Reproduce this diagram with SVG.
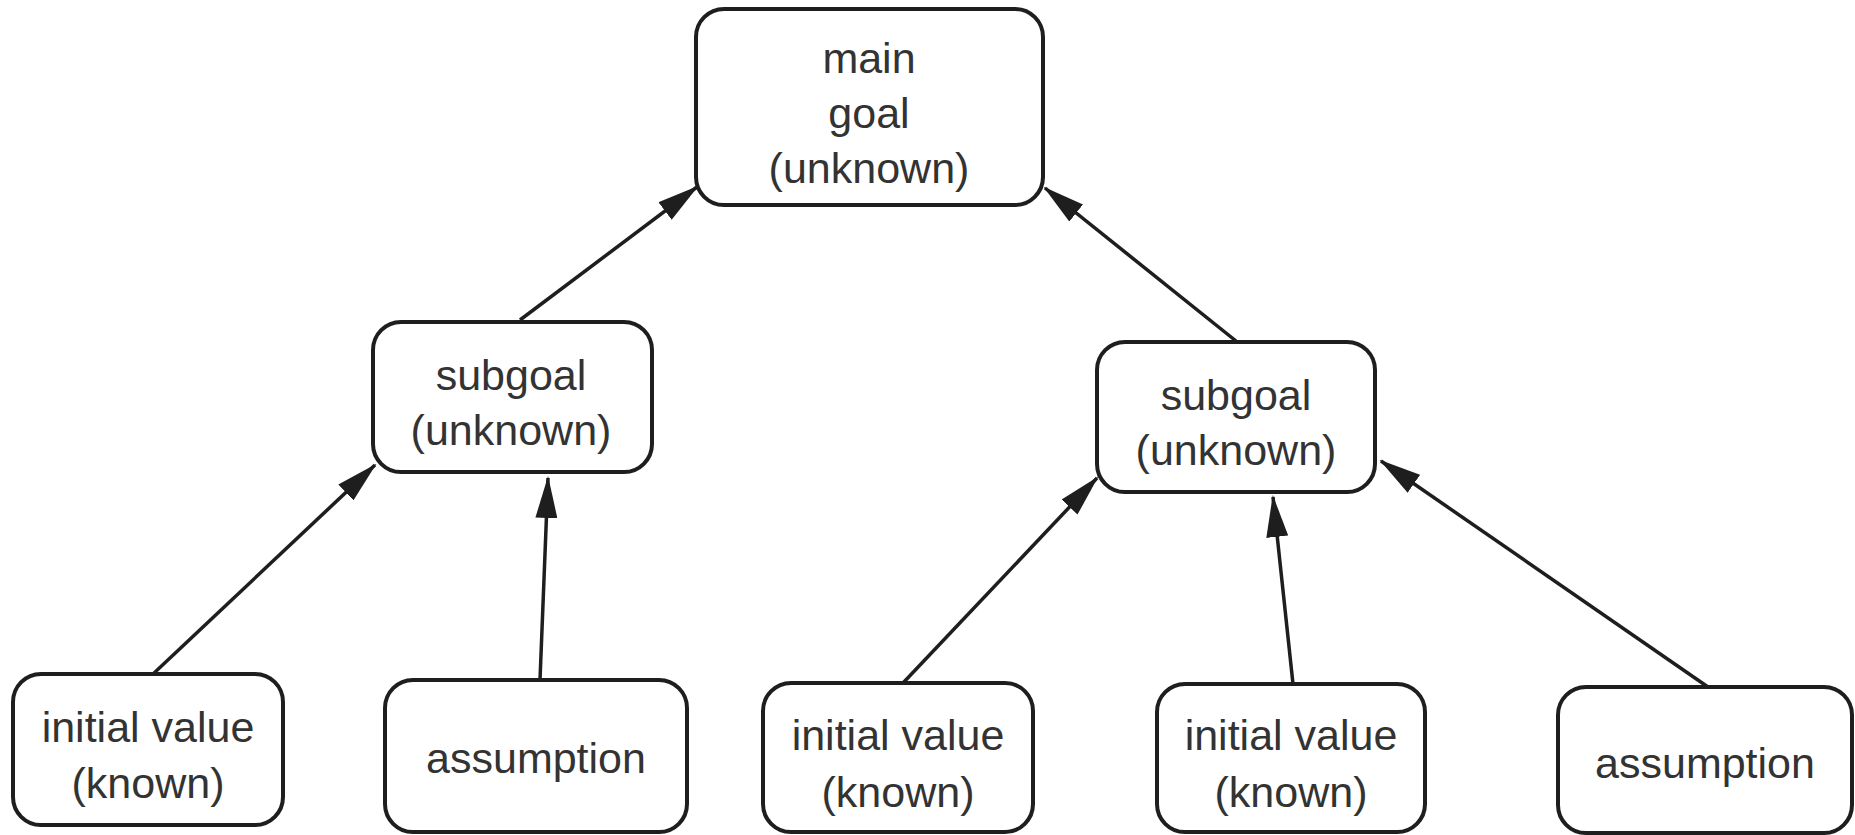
<svg xmlns="http://www.w3.org/2000/svg" width="1855" height="835" viewBox="0 0 1855 835">
<style>
  .box { fill: #ffffff; stroke: #1e1e1e; stroke-width: 4; }
  .lbl { font-family: "Liberation Sans", Arial, sans-serif; font-size: 43px; fill: #333333; text-anchor: middle; }
  .edge { stroke: #1e1e1e; stroke-width: 3.5; fill: none; marker-end: url(#arrow); }
</style>
<defs>
  <marker id="arrow" viewBox="0 0 42 22" refX="40" refY="11" markerWidth="42" markerHeight="22" markerUnits="userSpaceOnUse" orient="auto">
    <path d="M0,0 L42,11 L0,22 z" fill="#1e1e1e"/>
  </marker>
</defs>
<rect width="1855" height="835" fill="#ffffff"/>
<g id="connectors">
  <line class="edge" x1="520" y1="320" x2="697" y2="187"/>
  <line class="edge" x1="1236" y1="341" x2="1045" y2="188"/>
  <line class="edge" x1="153" y1="674" x2="375" y2="465"/>
  <line class="edge" x1="540" y1="680" x2="548" y2="478"/>
  <line class="edge" x1="903" y1="683" x2="1097" y2="478"/>
  <line class="edge" x1="1293" y1="684" x2="1273" y2="497"/>
  <line class="edge" x1="1708" y1="687" x2="1381" y2="461"/>
</g>
<g id="main-goal">
  <rect class="box" x="696" y="9" width="347" height="196" rx="28"/>
  <text class="lbl" x="869" y="73">main</text>
  <text class="lbl" x="869" y="128">goal</text>
  <text class="lbl" x="869" y="183">(unknown)</text>
</g>
<g id="subgoal-left">
  <rect class="box" x="373" y="322" width="279" height="150" rx="28"/>
  <text class="lbl" x="511" y="390">subgoal</text>
  <text class="lbl" x="511" y="445">(unknown)</text>
</g>
<g id="subgoal-right">
  <rect class="box" x="1097" y="342" width="278" height="150" rx="28"/>
  <text class="lbl" x="1236" y="410">subgoal</text>
  <text class="lbl" x="1236" y="465">(unknown)</text>
</g>
<g id="initial-value-1">
  <rect class="box" x="13" y="674" width="270" height="151" rx="28"/>
  <text class="lbl" x="148" y="742">initial value</text>
  <text class="lbl" x="148" y="798">(known)</text>
</g>
<g id="assumption-1">
  <rect class="box" x="385" y="680" width="302" height="152" rx="28"/>
  <text class="lbl" x="536" y="773">assumption</text>
</g>
<g id="initial-value-2">
  <rect class="box" x="763" y="683" width="270" height="149" rx="28"/>
  <text class="lbl" x="898" y="750">initial value</text>
  <text class="lbl" x="898" y="807">(known)</text>
</g>
<g id="initial-value-3">
  <rect class="box" x="1157" y="684" width="268" height="148" rx="28"/>
  <text class="lbl" x="1291" y="750">initial value</text>
  <text class="lbl" x="1291" y="807">(known)</text>
</g>
<g id="assumption-2">
  <rect class="box" x="1558" y="687" width="294" height="146" rx="28"/>
  <text class="lbl" x="1705" y="778">assumption</text>
</g>
</svg>
